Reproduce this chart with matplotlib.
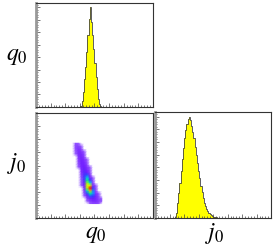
"""
Corner plot of q0 / j0 posterior: two marginal histograms and a 2D density
"""
import numpy as np
import matplotlib
matplotlib.use('Agg')
import matplotlib.pyplot as plt
from matplotlib.colors import LinearSegmentedColormap
from matplotlib.ticker import MultipleLocator

plt.rcParams['mathtext.fontset'] = 'stix'

# axis ranges (no tick labels are shown in the original)
q0_range = (-1.5, 0.5)
j0_range = (-2.0, 6.0)
n_bins = 100

# q0 marginal: counts for bins starting at q0_first_bin
q0_first_bin = 38
q0_counts = [10, 60, 150, 280, 400, 550, 720, 880, 1000, 850, 720, 580,
             440, 300, 180, 80, 30, 10]

# j0 marginal: counts for bins starting at j0_first_bin
j0_first_bin = 17
j0_counts = [10, 50, 150, 250, 350, 460, 580, 690, 790, 870, 930, 980, 1000,
             970, 910, 850, 790, 700, 620, 540, 460, 390, 320, 260, 200, 150,
             120, 90, 70, 50, 35, 25, 18, 12, 8, 5]

# 2D density (rows top -> bottom in j0, columns left -> right in q0)
grid_q0 = (-0.9, -0.35)   # q0 span covered by the grid
grid_j0 = (-1.0, 3.8)     # j0 span covered by the grid
density = [
    [0, 3, 2, 0, 0, 0, 0, 0, 0, 0, 0],
    [0, 5, 6, 1, 0, 0, 0, 0, 0, 0, 0],
    [0, 4, 9, 5, 0, 0, 0, 0, 0, 0, 0],
    [0, 2, 11, 8, 1, 0, 0, 0, 0, 0, 0],
    [0, 1, 10, 12, 4, 0, 0, 0, 0, 0, 0],
    [0, 0, 8, 14, 6, 0, 0, 0, 0, 0, 0],
    [0, 0, 7, 15, 9, 1, 0, 0, 0, 0, 0],
    [0, 0, 5, 16, 12, 2, 0, 0, 0, 0, 0],
    [0, 0, 3, 15, 15, 5, 0, 0, 0, 0, 0],
    [0, 0, 1, 13, 18, 8, 1, 0, 0, 0, 0],
    [0, 0, 0, 11, 20, 12, 2, 0, 0, 0, 0],
    [0, 0, 0, 9, 22, 18, 4, 0, 0, 0, 0],
    [0, 0, 0, 6, 24, 30, 9, 0, 0, 0, 0],
    [0, 0, 0, 4, 26, 44, 16, 1, 0, 0, 0],
    [0, 0, 0, 2, 24, 54, 28, 3, 0, 0, 0],
    [0, 0, 0, 1, 20, 66, 44, 6, 0, 0, 0],
    [0, 0, 0, 1, 17, 76, 74, 13, 1, 0, 0],
    [0, 0, 0, 0, 13, 68, 100, 26, 3, 0, 0],
    [0, 0, 0, 0, 9, 48, 84, 34, 5, 0, 0],
    [0, 0, 0, 0, 4, 29, 54, 36, 9, 1, 0],
    [0, 0, 0, 0, 1, 16, 31, 28, 13, 3, 0],
    [0, 0, 0, 0, 0, 6, 15, 19, 13, 5, 1],
    [0, 0, 0, 0, 0, 1, 6, 11, 11, 6, 2],
    [0, 0, 0, 0, 0, 0, 1, 4, 5, 3, 0],
]

palette = [(0.00, '#9a60ff'), (0.08, '#8030ff'), (0.18, '#6e1cff'),
           (0.28, '#3040ff'), (0.40, '#00c8ff'), (0.55, '#00ff80'),
           (0.70, '#c0ff00'), (0.80, '#ffee00'), (0.90, '#ff7000'),
           (1.00, '#ff0000')]


def style_axes(ax, xstep, ystep):
    ax.xaxis.set_major_locator(MultipleLocator(xstep))
    ax.xaxis.set_minor_locator(MultipleLocator(xstep / 5))
    ax.yaxis.set_major_locator(MultipleLocator(ystep))
    ax.yaxis.set_minor_locator(MultipleLocator(ystep / 5))
    ax.tick_params(which='both', direction='in', top=False, right=False,
                   labelbottom=False, labelleft=False, width=0.5, color='#444444')
    ax.tick_params(which='major', length=3)
    ax.tick_params(which='minor', length=1.5)
    for s in ['top', 'right', 'bottom']:
        ax.spines[s].set_linewidth(0.8)
        ax.spines[s].set_color('#333333')
    ax.spines['left'].set_linewidth(2)
    ax.spines['left'].set_color('#999999')


def draw_hist(ax, lo, hi, first_bin, counts):
    edges = np.linspace(lo, hi, n_bins + 1)
    vals = np.zeros(n_bins)
    vals[first_bin:first_bin + len(counts)] = counts
    ax.stairs(vals, edges, fill=True, color='#ffff00')
    ax.stairs(vals, edges, color='#444444', linewidth=0.6)
    ax.set_xlim(lo, hi)
    ax.set_ylim(0, max(counts) * 1.045)


fig = plt.figure(figsize=(2.75, 2.48), dpi=100)

ax_q = fig.add_axes([0.131, 0.569, 0.425, 0.419])
ax_2d = fig.add_axes([0.131, 0.121, 0.425, 0.423])
ax_j = fig.add_axes([0.564, 0.121, 0.422, 0.427])

draw_hist(ax_q, *q0_range, q0_first_bin, q0_counts)
draw_hist(ax_j, *j0_range, j0_first_bin, j0_counts)

# 2D density drawn with smooth shading between cell centres
dens = np.array(density, dtype=float)[::-1]
dx = (grid_q0[1] - grid_q0[0]) / dens.shape[1]
dy = (grid_j0[1] - grid_j0[0]) / dens.shape[0]
xc = np.linspace(grid_q0[0] + dx / 2, grid_q0[1] - dx / 2, dens.shape[1])
yc = np.linspace(grid_j0[0] + dy / 2, grid_j0[1] - dy / 2, dens.shape[0])
cmap = LinearSegmentedColormap.from_list('root', palette)
cmap.set_under('white')
ax_2d.pcolormesh(xc, yc, dens, cmap=cmap, vmin=0.5, vmax=100, shading='gouraud')
ax_2d.set_xlim(*q0_range)
ax_2d.set_ylim(*j0_range)

style_axes(ax_q, 0.25, 125)
style_axes(ax_2d, 0.25, 1.0)
style_axes(ax_j, 1.0, 125)

fig.text(0.062, 0.78, r'$q_0$', fontsize=17, ha='center', va='center')
fig.text(0.062, 0.34, r'$j_0$', fontsize=17, ha='center', va='center')
fig.text(0.35, 0.06, r'$q_0$', fontsize=17, ha='center', va='center')
fig.text(0.78, 0.06, r'$j_0$', fontsize=17, ha='center', va='center')

fig.savefig('out.png', dpi=100)
plt.close(fig)
